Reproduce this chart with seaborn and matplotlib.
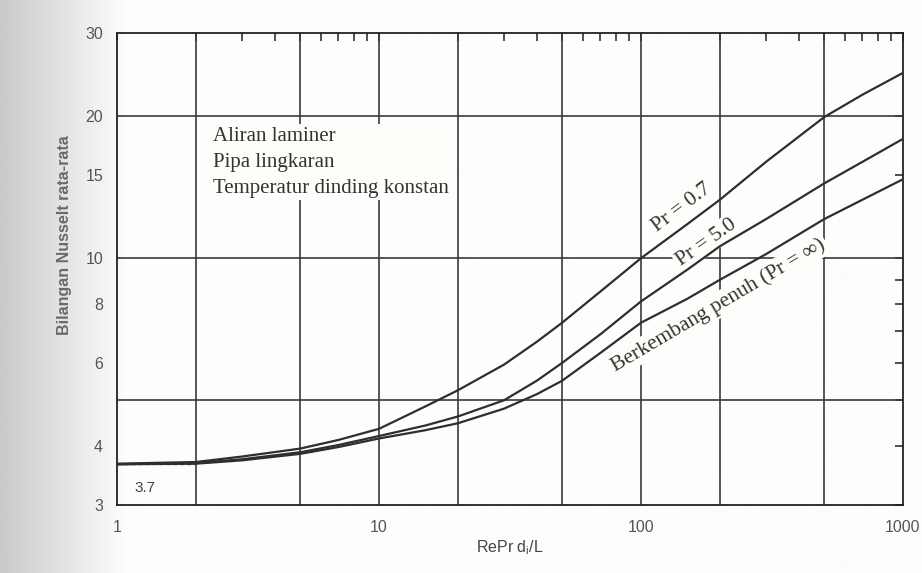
import numpy as np
import pandas as pd
import matplotlib
matplotlib.use("Agg")
import matplotlib.pyplot as plt
import seaborn as sns
from matplotlib.ticker import FixedLocator, FixedFormatter, NullLocator

# ---- data ----
x_vals = [1, 2, 3, 5, 7, 10, 15, 20, 30, 40, 50, 70, 100, 150, 200, 300, 500, 700, 1000]
nu_pr07 = [3.67, 3.70, 3.80, 3.95, 4.12, 4.35, 4.85, 5.25, 5.95, 6.65, 7.3, 8.5, 10.0, 11.8,
           13.3, 16.0, 19.9, 22.2, 24.7]
nu_pr50 = [3.66, 3.68, 3.75, 3.88, 4.02, 4.20, 4.42, 4.62, 5.0, 5.5, 6.0, 6.9, 8.1, 9.45,
           10.6, 12.1, 14.4, 16.0, 17.9]
nu_dev = [3.66, 3.67, 3.73, 3.85, 3.98, 4.15, 4.32, 4.47, 4.8, 5.15, 5.5, 6.3, 7.3, 8.2,
          9.0, 10.2, 12.1, 13.3, 14.7]
series_names = ["Pr = 0.7", "Pr = 5.0", "Berkembang penuh (Pr = ∞)"]

x_tick_labels = {1: "1", 10: "10", 100: "100", 1000: "1000"}
y_tick_labels = {3: "3", 4: "4", 6: "6", 8: "8", 10: "10", 15: "15", 20: "20", 30: "30"}
x_grid = [2, 5, 10, 20, 50, 100, 200, 500]
y_grid = [5, 10, 20]
nu_limit = 3.66

n = len(x_vals)
df = pd.DataFrame({
    "x": x_vals * 3,
    "Nu": nu_pr07 + nu_pr50 + nu_dev,
    "series": [series_names[0]] * n + [series_names[1]] * n + [series_names[2]] * n,
})

sns.set_style("white")
plt.rcParams["font.family"] = ["Liberation Sans", "DejaVu Sans"]

fig = plt.figure(figsize=(9.22, 5.73), dpi=100)
fig.patch.set_facecolor("#fdfdf9")

# scanned-page shading at the left edge
bg = fig.add_axes([0, 0, 1, 1], zorder=-10)
cols = np.arange(922)
grad = np.tile(np.clip(0.79 + 0.20 * (cols / 125.0), 0, 0.99), (2, 1))
bg.imshow(grad, cmap="gray", vmin=0, vmax=1, aspect="auto", extent=[0, 1, 0, 1])
bg.set_axis_off()

ax = fig.add_axes([117 / 922, 1 - 505 / 573, (903 - 117) / 922, (505 - 33) / 573])
ax.set_facecolor("none")

line_col = "#2e2e2e"
sns.lineplot(data=df, x="x", y="Nu", hue="series",
             palette=[line_col] * 3, legend=False, lw=1.6, ax=ax, zorder=3)
ax.set_xlabel("")
ax.set_ylabel("")

ax.set_xscale("log")
ax.set_yscale("log")
ax.set_xlim(1, 1000)
ax.set_ylim(3, 30)

for gx in x_grid:
    ax.axvline(gx, color="#3a3a3a", lw=1.2, zorder=1)
for gy in y_grid:
    ax.axhline(gy, color="#3a3a3a", lw=1.2, zorder=1)

xt = [m * 10 ** d for d in range(3) for m in range(1, 10)] + [1000]
ax.xaxis.set_major_locator(FixedLocator(xt))
ax.xaxis.set_major_formatter(FixedFormatter([x_tick_labels.get(int(round(v)), "") for v in xt]))
ax.xaxis.set_minor_locator(NullLocator())
yt = [3, 4, 5, 6, 7, 8, 9, 10, 15, 20, 30]
ax.yaxis.set_major_locator(FixedLocator(yt))
ax.yaxis.set_major_formatter(FixedFormatter([y_tick_labels.get(v, "") for v in yt]))
ax.yaxis.set_minor_locator(NullLocator())

ax.tick_params(axis="both", direction="in", top=True, right=True, length=6, width=1.2,
               color="#333333", labelcolor="#555555", labelsize=11.5)
ax.tick_params(axis="x", pad=11)
ax.tick_params(axis="y", pad=10)
for s in ax.spines.values():
    s.set_color("#222222")
    s.set_linewidth(1.3)
    s.set_visible(True)

# limiting value 3.66
ax.plot([1, 2], [nu_limit, nu_limit], ls=(0, (3, 2)), color="#555555", lw=1.0, zorder=2)
ax.text(1.28, 3.26, "3.7", fontsize=11, color="#444444", ha="center", va="center")

serif = ["Liberation Serif", "DejaVu Serif"]
white_box = dict(boxstyle="square,pad=0.12", facecolor="#fdfdf9", edgecolor="none")
ax.text(2.32, 19.0, "Aliran laminer\nPipa lingkaran\nTemperatur dinding konstan",
        family=serif, fontsize=15, color="#333333", va="top", ha="left", linespacing=1.5,
        bbox=white_box, zorder=2)

ax.text(143, 12.8, series_names[0], family=serif, fontsize=15.5, rotation=37,
        ha="center", va="center", color="#333333", bbox=white_box, zorder=2)
ax.text(178, 10.8, series_names[1], family=serif, fontsize=15.5, rotation=35,
        ha="center", va="center", color="#333333", bbox=white_box, zorder=2)
ax.text(197, 7.95, series_names[2], family=serif, fontsize=15.5, rotation=30.5,
        ha="center", va="center", color="#333333", bbox=white_box, zorder=2)

fig.text(510 / 922, 1 - 548 / 573, "RePr d$_\\mathregular{i}$/L", fontsize=11.5,
         ha="center", va="center", color="#444444")
fig.text(65 / 922, 1 - 235 / 573, "Bilangan Nusselt rata-rata", fontsize=11.5,
         fontweight="bold", rotation=90, ha="center", va="center", color="#6a6a6a")

fig.savefig("out.png", dpi=100, facecolor=fig.get_facecolor())
